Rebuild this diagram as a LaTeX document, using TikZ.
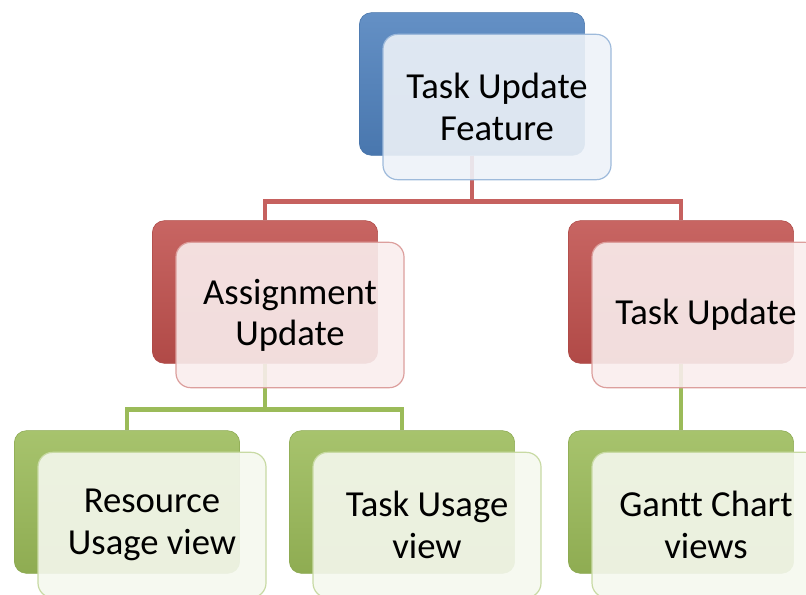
\documentclass[tikz,border=0pt]{standalone}
\usepackage{fontspec}
\setmainfont{Carlito}[Ligatures=NoCommon]
\usetikzlibrary{positioning}
\usetikzlibrary{calc}
\definecolor{accblue}{RGB}{79,129,189}
\definecolor{accred}{RGB}{192,80,77}
\definecolor{accgreen}{RGB}{155,187,89}
\tikzstyle{backbox}=[rectangle, rounded corners=9pt, minimum width=169pt, minimum height=107pt, inner sep=0pt]
\tikzstyle{frontbox}=[rectangle, rounded corners=11pt, minimum width=171pt, minimum height=109pt, inner sep=0pt, fill opacity=0.9, text opacity=1, line width=0.9pt, align=center, font=\fontsize{27.5}{31}\selectfont]
\tikzstyle{link}=[line width=3.6pt]

\begin{document}
\begin{tikzpicture}[x=0.75pt, y=-0.75pt]
\useasboundingbox (0,0) rectangle (806,594);

  \def\dx{25};
  \def\dy{23};

   % back boxes
   \foreach \x/\y/\name/\col in {472/84/top/accblue, 265/292/asg/accred, 681/292/tsk/accred, 127/502/res/accgreen, 402/502/use/accgreen, 681/502/gnt/accgreen}
          \node[backbox, draw=\col!90!black, top color=\col!88!white, middle color=\col, bottom color=\col!92!black] (\name) at (\x, \y) {};

   % connectors
   \foreach \source/\dest in {top/asg, top/tsk}
          \draw[link, accred!90!white] (\source.south) -- ++(0,46) -| (\dest.north);

   \foreach \source/\dest in {asg/res, asg/use}
          \draw[link, accgreen] (\source.south) -- ++(0,46) -| (\dest.north);

   \draw[link, accgreen] (tsk.south) -- (gnt.north);

   % front boxes
   \foreach \x/\y/\name/\label/\col in {472/84/top/{Task Update\\Feature}/accblue, 265/292/asg/{Assignment\\Update}/accred, 681/292/tsk/{Task Update}/accred, 127/502/res/{Resource\\Usage view}/accgreen, 402/502/use/{Task Usage\\view}/accgreen, 681/502/gnt/{Gantt Chart\\views}/accgreen}
          \node[frontbox, fill=\col!10!white, draw=\col!55!white] (\name-f) at (\x+\dx, \y+\dy) {\label};

\end{tikzpicture}
\end{document}
